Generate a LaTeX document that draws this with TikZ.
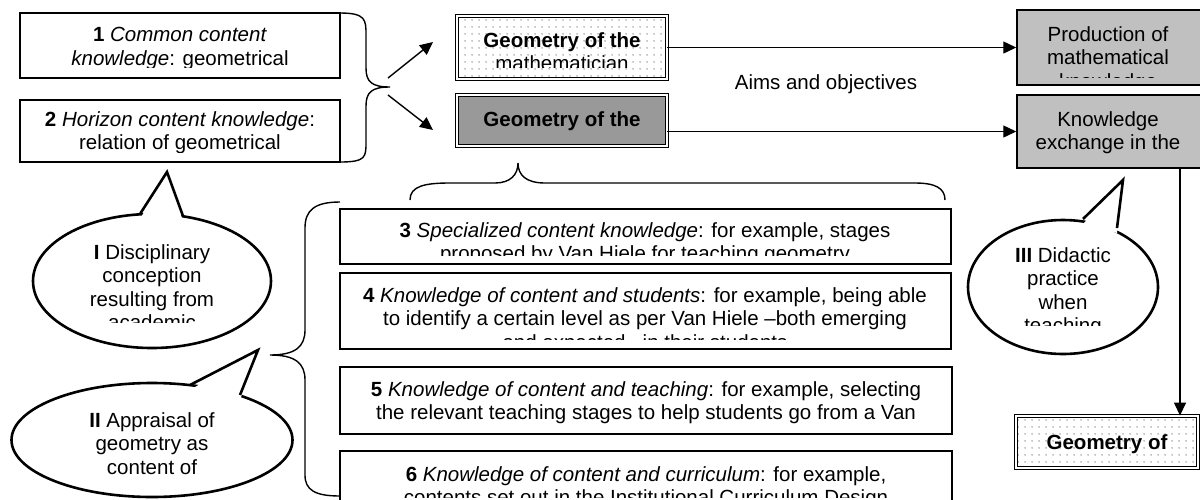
\documentclass[tikz,border=0pt]{standalone}
\usepackage{fontspec}
\setmainfont{Liberation Sans}
\usetikzlibrary{shapes.geometric,arrows.meta,patterns.meta}

\definecolor{teachgray}{RGB}{153,153,153}
\definecolor{panelgray}{RGB}{192,192,192}

% light dot grid for the double-framed boxes
\tikzdeclarepattern{
  name=griddots,
  type=uncolored,
  bounding box={(0pt,0pt) and (7pt,7pt)},
  tile size={(7pt,7pt)},
  code={\fill (3.5pt,3.5pt) circle (0.9pt);}
}

% text that is cut off by its frame
\newcommand{\cliptxt}[5]{%
  \begin{scope}
    \clip #1 rectangle #2;
    \node[txt, anchor=north] (#4) at #3 {#5};
  \end{scope}}

\begin{document}
\begin{tikzpicture}[x=1pt, y=-1pt,
    txt/.style={inner sep=0pt, align=center, font=\fontsize{20.5}{23.6}\selectfont},
    kbox/.style={draw, line width=1.5pt, inner sep=0pt},
    dbox/.style={draw, double=white, double distance=1.8pt, line width=0.9pt, inner sep=0pt},
    dotfill/.style={pattern=griddots, pattern color=black!45},
    bubble/.style={ellipse, draw, line width=2.6pt, fill=white, inner sep=0pt},
    tail/.style={line width=2.6pt, line join=miter},
    brace/.style={line width=1.4pt},
    arr/.style={line width=1.4pt, -{Triangle[length=13pt,width=12pt]}}]
    \useasboundingbox (0,0) rectangle (1200,499);

    % Boxes 1 and 2
    \node[kbox, minimum width=320, minimum height=65] (cck) at (180,45.5) {};
    \node[kbox, minimum width=320, minimum height=62] (hck) at (180,131) {};
    \cliptxt{(21,14)}{(339,67)}{(180,27)}{ccktext}{\textbf{1} \textit{Common content}\\\textit{knowledge}: geometrical}
    \cliptxt{(21,101)}{(339,152)}{(180,111)}{hcktext}{\textbf{2} \textit{Horizon content knowledge}:\\relation of geometrical}

    % brace and the two arrows
    \draw[brace] (340,13) .. controls (366,13) and (366,20) .. (366,35) -- (366,68)
        .. controls (366,82) and (372,87) .. (390,87)
        .. controls (372,87) and (366,92) .. (366,106) -- (366,142)
        .. controls (366,157) and (366,162) .. (340,162);
    \coordinate (upstart) at (388,78);
    \coordinate (upend) at (433,42);
    \coordinate (downstart) at (388,95);
    \coordinate (downend) at (433,130);
    \draw[arr] (upstart) -- (upend);
    \draw[arr] (downstart) -- (downend);

    % Geometry boxes
    \node[dbox, dotfill, minimum width=210, minimum height=63] (mathgeo) at (562,47.5) {};
    \node[dbox, fill=teachgray, minimum width=210, minimum height=51] (teachgeo) at (562,120.5) {};
    \cliptxt{(458,17)}{(666,67)}{(562,32)}{mathtext}{\bfseries Geometry of the\\mathematician}
    \node[txt, anchor=north] (teachtext) at (562,111) {\bfseries Geometry of the};

    % Production and classroom boxes
    \node[kbox, fill=panelgray, minimum width=186, minimum height=75] (prod) at (1110,47.5) {};
    \node[kbox, fill=panelgray, minimum width=186, minimum height=73] (exch) at (1110,131.5) {};
    \cliptxt{(1018,11)}{(1202,77)}{(1108,26)}{prodtext}{Production of\\mathematical\\knowledge}
    \node[txt, anchor=north] (exchtext) at (1108,111) {Knowledge\\exchange in the};

    \draw[arr] (mathgeo.east) -- (mathgeo.east -| prod.west);
    \draw[arr] (teachgeo.east |- exch.west) -- (exch.west);
    \node[txt] (aims) at (826,84) {Aims and objectives};

    % Student box
    \node[dbox, dotfill, minimum width=182, minimum height=52] (studgeo) at (1107,442) {};
    \node[txt, anchor=north] (studtext) at (1107,434) {\bfseries Geometry of};
    \draw[arr] ([xshift=70pt]exch.south) -- ([xshift=73pt]studgeo.north);

    % Boxes 3 to 6
    \node[kbox, minimum width=611, minimum height=55] (sck) at (645.5,236.5) {};
    \node[kbox, minimum width=611, minimum height=76] (kcs) at (645.5,311) {};
    \node[kbox, minimum width=612, minimum height=67] (kct) at (646,400.5) {};
    \node[kbox, minimum width=612, minimum height=64] (kcc) at (646,483) {};
    \cliptxt{(341,210)}{(950,255)}{(645,222)}{scktext}{\textbf{3} \textit{Specialized content knowledge}: for example, stages\\proposed by Van Hiele for teaching geometry}
    \cliptxt{(341,274)}{(950,339)}{(645,287)}{kcstext}{\textbf{4} \textit{Knowledge of content and students}: for example, being able\\to identify a certain level as per Van Hiele --both emerging\\and expected-- in their students}
    \node[txt, anchor=north] (kcttext) at (646,381) {\textbf{5} \textit{Knowledge of content and teaching}: for example, selecting\\the relevant teaching stages to help students go from a Van};
    \cliptxt{(341,452)}{(951,497)}{(646,466)}{kcctext}{\textbf{6} \textit{Knowledge of content and curriculum}: for example,\\contents set out in the Institutional Curriculum Design}

    % braces round boxes 3 to 6
    \draw[brace] (410,200) .. controls (410,186) and (425,183) .. (450,183) -- (495,183)
        .. controls (510,183) and (518,175) .. (518,163)
        .. controls (518,175) and (526,183) .. (545,183) -- (915,183)
        .. controls (935,183) and (945,188) .. (945,200);
    \draw[brace] (340,202) .. controls (315,202) and (305,210) .. (305,228) -- (305,330)
        .. controls (305,347) and (295,355) .. (270,355)
        .. controls (295,355) and (305,363) .. (305,380) -- (305,475)
        .. controls (305,490) and (315,496) .. (340,496);

    % Bubble I
    \node[bubble, minimum width=238, minimum height=134] (disc) at (152,281) {};
    \coordinate (discleft) at (140,214);
    \coordinate (discapex) at (167,172);
    \coordinate (discright) at (183,216);
    \fill[white] ([yshift=-5pt]discleft) -- (discapex) -- ([yshift=-5pt]discright) -- cycle;
    \draw[tail] (discleft) -- (discapex) -- (discright);
    \cliptxt{(50,230)}{(255,322)}{(152,244)}{disctext}{\textbf{I} Disciplinary\\conception\\resulting from\\academic}

    % Bubble II
    \node[bubble, minimum width=281, minimum height=114] (appr) at (152,440) {};
    \coordinate (apprleft) at (190,385);
    \coordinate (apprapex) at (258,350);
    \coordinate (apprright) at (240,395);
    \fill[white] ([yshift=-5pt]apprleft) -- (apprapex) -- ([yshift=-5pt]apprright) -- cycle;
    \draw[tail] (apprleft) -- (apprapex) -- (apprright);
    \cliptxt{(30,400)}{(280,482)}{(152,412)}{apprtext}{\textbf{II} Appraisal of\\geometry as\\content of}

    % Bubble III
    \node[bubble, minimum width=190, minimum height=134] (didac) at (1063,287) {};
    \coordinate (didacleft) at (1083,219);
    \coordinate (didacapex) at (1123,180);
    \coordinate (didacright) at (1117,228);
    \fill[white] ([yshift=-5pt]didacleft) -- (didacapex) -- ([yshift=-5pt]didacright) -- cycle;
    \draw[tail] (didacleft) -- (didacapex) -- (didacright);
    \cliptxt{(980,235)}{(1150,325)}{(1063,247)}{didactext}{\textbf{III} Didactic\\practice\\when\\teaching}
\end{tikzpicture}
\end{document}
